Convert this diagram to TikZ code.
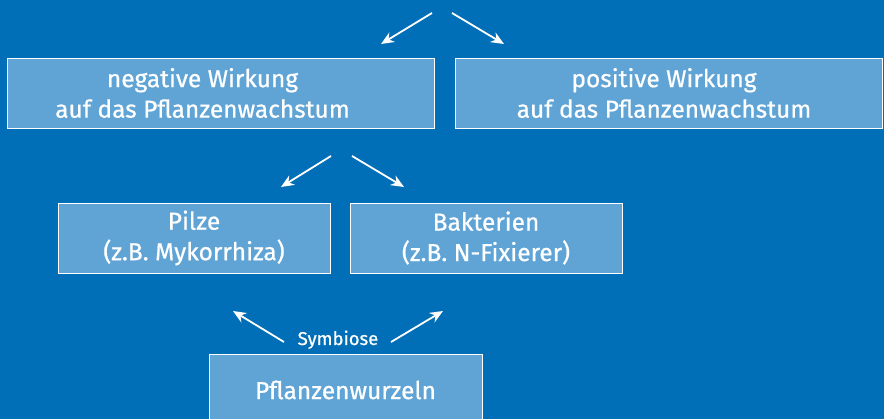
\documentclass[tikz,border=0pt]{standalone}
\usepackage{fontspec}
\setmainfont{Fira Sans}[FakeBold=0.6]
\newfontfamily\boxfont{Fira Sans}[FakeBold=0.7]
\usetikzlibrary{arrows.meta}
\definecolor{bgblue}{RGB}{0,111,183}
\definecolor{boxblue}{RGB}{96,164,214}
\begin{document}
\begin{tikzpicture}[x=1pt,y=-1pt,
  box/.style={draw=white,line width=0.9pt,fill=boxblue,text=white,align=center,inner sep=0pt,
    font=\boxfont\fontsize{24.5}{30.5}\selectfont},
  arr/.style={draw=white,line width=1.8pt,-{Stealth[length=13pt,width=11pt]}}]
\clip (0,0) rectangle (884,419);
\fill[bgblue] (0,0) rectangle (884,419);
\node[box,minimum width=427pt,minimum height=70pt] (neg) at (220.5,93) {negative Wirkung\makebox[36pt]{}\\auf das Pflanzenwachstum\makebox[36pt]{}};
\node[box,minimum width=427pt,minimum height=70pt] (pos) at (668.5,93) {positive Wirkung\makebox[9pt]{}\\auf das Pflanzenwachstum\makebox[9pt]{}};
\node[box,minimum width=272pt,minimum height=70pt] (pilze) at (194,238) {Pilze\\(z.B. Mykorrhiza)};
\node[box,minimum width=272pt,minimum height=70pt] (bakt) at (486,238) {Bakterien\\(z.B. N-Fixierer)};
\node[box,minimum width=273pt,minimum height=72pt] (wurz) at (345.5,390) {Pflanzenwurzeln};
\node[text=white,font=\boxfont\fontsize{18.5}{20}\selectfont,anchor=base] (sym) at (338,345) {Symbiose};
\coordinate (t1) at (432,13); \coordinate (t1e) at (381,44);
\coordinate (t2) at (452,13); \coordinate (t2e) at (504,44);
\coordinate (m1) at (331,156); \coordinate (m1e) at (281,187);
\coordinate (m2) at (352,156); \coordinate (m2e) at (404,187);
\coordinate (s1) at (284,342); \coordinate (s1e) at (233,311);
\coordinate (s2) at (391,342); \coordinate (s2e) at (443,311);
\draw[arr] (t1) -- (t1e);
\draw[arr] (t2) -- (t2e);
\draw[arr] (m1) -- (m1e);
\draw[arr] (m2) -- (m2e);
\draw[arr] (s1) -- (s1e);
\draw[arr] (s2) -- (s2e);
\end{tikzpicture}
\end{document}
